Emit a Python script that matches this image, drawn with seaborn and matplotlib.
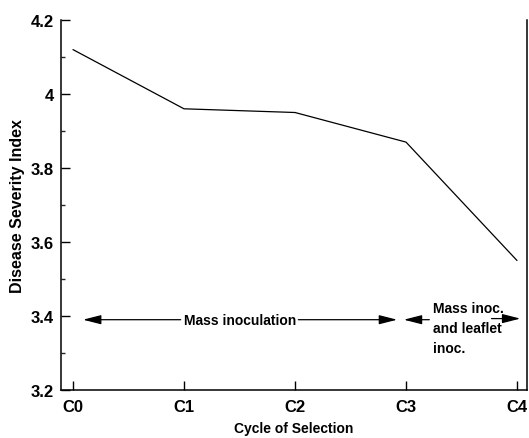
import matplotlib
matplotlib.use("Agg")
import matplotlib.pyplot as plt
import seaborn as sns
import pandas as pd

cycles = ["C0", "C1", "C2", "C3", "C4"]
severity = [4.12, 3.96, 3.95, 3.87, 3.55]
y_ticks = [3.2, 3.4, 3.6, 3.8, 4.0, 4.2]
y_tick_labels = ["3.2", "3.4", "3.6", "3.8", "4", "4.2"]
label_mass = "Mass inoculation"
label_leaflet = "Mass inoc.\nand leaflet\ninoc."

sns.set_theme(style="white")
plt.rcParams["font.family"] = ["Liberation Sans", "DejaVu Sans"]
plt.rcParams["font.weight"] = "bold"
plt.rcParams["text.color"] = "black"
plt.rcParams["axes.labelcolor"] = "black"

df = pd.DataFrame({"pos": range(len(cycles)), "sev": severity})

fig = plt.figure(figsize=(5.29, 4.39), dpi=100)
ax = fig.add_axes([61 / 529, 48 / 439, 466 / 529, 370 / 439])
sns.lineplot(data=df, x="pos", y="sev", ax=ax, color="black", linewidth=0.9)

ax.set_xlim(-0.108, 4.09)
ax.set_ylim(3.2, 4.2)
ax.set_xticks(range(len(cycles)))
ax.set_xticklabels(cycles)
ax.set_yticks(y_ticks)
ax.set_yticklabels(y_tick_labels)
ax.set_yticks([3.3, 3.5, 3.7, 3.9, 4.1], minor=True)
ax.tick_params(axis="both", which="major", direction="in", length=6.5, width=1,
               labelsize=12, color="black", labelcolor="black")
ax.tick_params(axis="y", which="major", pad=5, left=True)
ax.tick_params(axis="x", which="major", pad=6.5, bottom=True)
ax.tick_params(axis="y", which="minor", direction="in", length=3, width=1, left=True)
for lab in ax.get_xticklabels() + ax.get_yticklabels():
    lab.set_fontweight("bold")

for side in ["left", "bottom", "right"]:
    ax.spines[side].set_visible(True)
    ax.spines[side].set_color("black")
    ax.spines[side].set_linewidth(1.1)
ax.spines["top"].set_visible(False)

ax.set_xlabel("Cycle of Selection", fontsize=10, fontweight="bold", color="black", labelpad=5)
ax.set_ylabel("Disease Severity Index", fontsize=11.5, fontweight="bold", color="black", labelpad=4)

arrow_y = 3.39
aprops = dict(arrowstyle="-|>,head_length=1.1,head_width=0.28", color="black",
              lw=0.9, shrinkA=0, shrinkB=0, mutation_scale=10)

ax.text(1.51, arrow_y, label_mass, ha="center", va="center", fontsize=10,
        fontweight="bold", color="black")
ax.annotate("", xy=(0.09, arrow_y), xytext=(0.97, arrow_y), arrowprops=aprops)
ax.annotate("", xy=(2.92, arrow_y), xytext=(2.03, arrow_y), arrowprops=aprops)

ax.text(3.24, arrow_y + 0.05, label_leaflet, ha="left", va="top", fontsize=10,
        fontweight="bold", linespacing=1.55, color="black")
ax.annotate("", xy=(2.98, arrow_y), xytext=(3.21, arrow_y), arrowprops=aprops)
ax.annotate("", xy=(4.03, 3.393), xytext=(3.77, 3.393), arrowprops=aprops)

fig.savefig("out.png", dpi=100)
